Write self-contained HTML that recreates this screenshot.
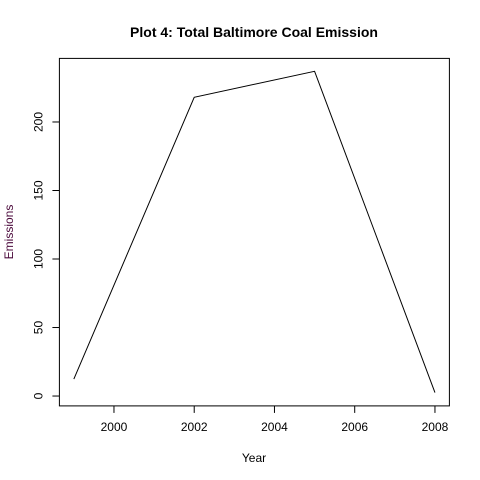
<!DOCTYPE html>
<html><head><meta charset="utf-8"><style>body{margin:0;background:#fff}svg{display:block;font-family:"Liberation Sans",sans-serif}</style></head>
<body>
<svg width="480" height="480" viewBox="0 0 480 480" xmlns="http://www.w3.org/2000/svg">
<rect width="480" height="480" fill="#fff"/>
<text x="254" y="37" text-anchor="middle" font-size="14" font-weight="bold">Plot 4: Total Baltimore Coal Emission</text>
<g id="plot"></g>
<text x="254" y="462" text-anchor="middle" font-size="12">Year</text>
<text transform="translate(13,232) rotate(-90)" text-anchor="middle" font-size="12" fill="#4b0a3c">Emissions</text>
</svg>
<script>
const years=[1999,2002,2005,2008];
const emissions=[12.4,218,237,2.5];
const xTicks=[2000,2002,2004,2006,2008];
const yTicks=[0,50,100,150,200];
const NS="http://www.w3.org/2000/svg";
const g=document.getElementById('plot');
const xMin=1998.64,xMax=2008.36,px0=59.4,px1=449.4;
const yMin=-7.2,yMax=246.4,py0=405.9,py1=58.4;
const X=v=>px0+(v-xMin)/(xMax-xMin)*(px1-px0);
const Y=v=>py0+(v-yMin)/(yMax-yMin)*(py1-py0);
function mk(t,a){const e=document.createElementNS(NS,t);for(const k in a)e.setAttribute(k,a[k]);g.appendChild(e);return e;}
const box=mk('rect',{x:px0,y:py1,width:px1-px0,height:py0-py1,fill:'none',stroke:'#000'});


xTicks.forEach(t=>{
 const l=mk('line',{x1:X(t),x2:X(t),y1:py0,y2:py0+7,stroke:'#000'});
 
 
 const tx=mk('text',{x:X(t),y:py0+25,'text-anchor':'middle','font-size':12});
 
 
 tx.textContent=t;
});
yTicks.forEach(t=>{
 const l=mk('line',{x1:px0-7,x2:px0,y1:Y(t),y2:Y(t),stroke:'#000'});
 
 
 const tx=mk('text',{transform:`translate(${px0-17},${Y(t)}) rotate(-90)`,'text-anchor':'middle','font-size':12});
 
 
 tx.textContent=t;
});
const line=mk('polyline',{points:years.map((y,i)=>X(y)+','+Y(emissions[i])).join(' '),fill:'none',stroke:'#000','stroke-width':1});


</script>
</body></html>
